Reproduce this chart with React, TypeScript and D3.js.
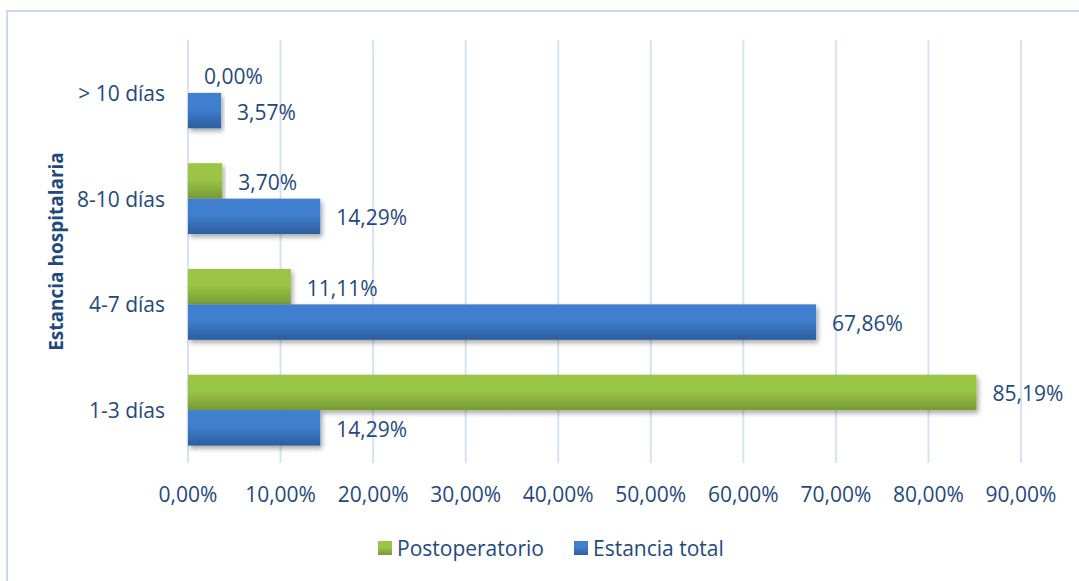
import { useEffect, useRef } from "react";
import * as d3 from "d3";

const categories = ["> 10 días", "8-10 días", "4-7 días", "1-3 días"];
const seriesNames = ["Postoperatorio", "Estancia total"];
const postoperatorio = [0, 3.7, 11.11, 85.19];
const estanciaTotal = [3.57, 14.29, 67.86, 14.29];
const xTicks = [0, 10, 20, 30, 40, 50, 60, 70, 80, 90];

const fmt = (v: number) => v.toFixed(2).replace(".", ",") + "%";

export default function App() {
  const svgRef = useRef<SVGSVGElement>(null);

  useEffect(() => {
    if (!svgRef.current) return;
    const svg = d3.select(svgRef.current);
    svg.selectAll("*").remove();

    const font = "'Open Sans', 'Noto Sans', sans-serif";
    const textColor = "#1f497d";
    const fontSize = "21px";

    const defs = svg.append("defs");
    const grad = (id: string, top: string, bottom: string) => {
      const g = defs
        .append("linearGradient")
        .attr("id", id)
        .attr("x1", 0)
        .attr("y1", 0)
        .attr("x2", 0)
        .attr("y2", 1);
      g.append("stop").attr("offset", "0%").attr("stop-color", top);
      g.append("stop").attr("offset", "45%").attr("stop-color", top);
      g.append("stop").attr("offset", "100%").attr("stop-color", bottom);
    };
    grad("gGreen", "#9bc545", "#779a36");
    grad("gBlue", "#3f7fcd", "#2c5d9e");
    defs
      .append("filter")
      .attr("id", "shadow")
      .attr("x", "-5%")
      .attr("y", "-20%")
      .attr("width", "115%")
      .attr("height", "160%")
      .append("feDropShadow")
      .attr("dx", 2)
      .attr("dy", 3)
      .attr("stdDeviation", 2.5)
      .attr("flood-color", "#000")
      .attr("flood-opacity", 0.35);

    // white background + outer border
    svg.append("rect").attr("width", 1079).attr("height", 581).attr("fill", "#fff");
    svg
      .append("rect")
      .attr("x", 7)
      .attr("y", 11)
      .attr("width", 1100)
      .attr("height", 600)
      .attr("fill", "none")
      .attr("stroke", "#c9dbf1")
      .attr("stroke-width", 2);

    // Scales
    const x = d3.scaleLinear().domain([0, 90]).range([188, 1021]);
    const y = d3
      .scaleBand<string>()
      .domain(categories)
      .range([40, 463])
      .paddingInner(0.33)
      .paddingOuter(0.165);
    const ySub = d3.scaleBand<string>().domain(seriesNames).range([0, y.bandwidth()]);

    // Gridlines
    svg
      .append("g")
      .selectAll("line")
      .data(xTicks)
      .join("line")
      .attr("x1", (d) => x(d))
      .attr("x2", (d) => x(d))
      .attr("y1", 40)
      .attr("y2", 463)
      .attr("stroke", "#d6e3f4")
      .attr("stroke-width", 2);

    // X tick labels
    svg
      .append("g")
      .selectAll("text")
      .data(xTicks)
      .join("text")
      .attr("x", (d) => x(d))
      .attr("y", 494)
      .attr("text-anchor", "middle")
      .attr("dominant-baseline", "central")
      .attr("fill", textColor)
      .style("font-family", font)
      .style("font-size", fontSize)
      .text((d) => fmt(d));

    // Category labels
    svg
      .append("g")
      .selectAll("text")
      .data(categories)
      .join("text")
      .attr("x", 165)
      .attr("y", (d) => (y(d) as number) + y.bandwidth() / 2)
      .attr("text-anchor", "end")
      .attr("dominant-baseline", "central")
      .attr("fill", textColor)
      .style("font-family", font)
      .style("font-size", fontSize)
      .text((d) => d);

    // Axis title
    svg
      .append("text")
      .attr("transform", `translate(63,${(40 + 463) / 2}) rotate(-90)`)
      .attr("text-anchor", "middle")
      .attr("fill", textColor)
      .style("font-family", font)
      .style("font-size", "19px")
      .style("font-weight", "bold")
      .text("Estancia hospitalaria");

    // Bars
    const series = [
      { name: seriesNames[0], values: postoperatorio, fill: "url(#gGreen)" },
      { name: seriesNames[1], values: estanciaTotal, fill: "url(#gBlue)" },
    ];

    series.forEach((s) => {
      const rows = categories.map((c, i) => ({ c, v: s.values[i] }));
      const g = svg.append("g");
      g.selectAll("rect")
        .data(rows.filter((r) => r.v > 0))
        .join("rect")
        .attr("x", x(0))
        .attr("y", (d) => (y(d.c) as number) + (ySub(s.name) as number))
        .attr("width", (d) => x(d.v) - x(0))
        .attr("height", ySub.bandwidth())
        .attr("fill", s.fill)
        .attr("filter", "url(#shadow)");
      g.selectAll("text")
        .data(rows)
        .join("text")
        .attr("x", (d) => x(d.v) + 16)
        .attr("y", (d) => (y(d.c) as number) + (ySub(s.name) as number) + ySub.bandwidth() / 2 + 1)
        .attr("dominant-baseline", "central")
        .attr("fill", textColor)
        .style("font-family", font)
        .style("font-size", fontSize)
        .text((d) => fmt(d.v));
    });

    // Legend
    const legend = [
      { name: seriesNames[0], fill: "url(#gGreen)", x: 378 },
      { name: seriesNames[1], fill: "url(#gBlue)", x: 574 },
    ];
    const lg = svg.append("g");
    legend.forEach((l) => {
      lg.append("rect")
        .attr("x", l.x)
        .attr("y", 541)
        .attr("width", 14)
        .attr("height", 14)
        .attr("fill", l.fill);
      lg.append("text")
        .attr("x", l.x + 19)
        .attr("y", 548)
        .attr("dominant-baseline", "central")
        .attr("fill", textColor)
        .style("font-family", font)
        .style("font-size", fontSize)
        .text(l.name);
    });
  }, []);

  return (
    <svg
      ref={svgRef}
      width={1079}
      height={581}
      style={{ position: "absolute", left: 0, top: 0 }}
    ></svg>
  );
}
